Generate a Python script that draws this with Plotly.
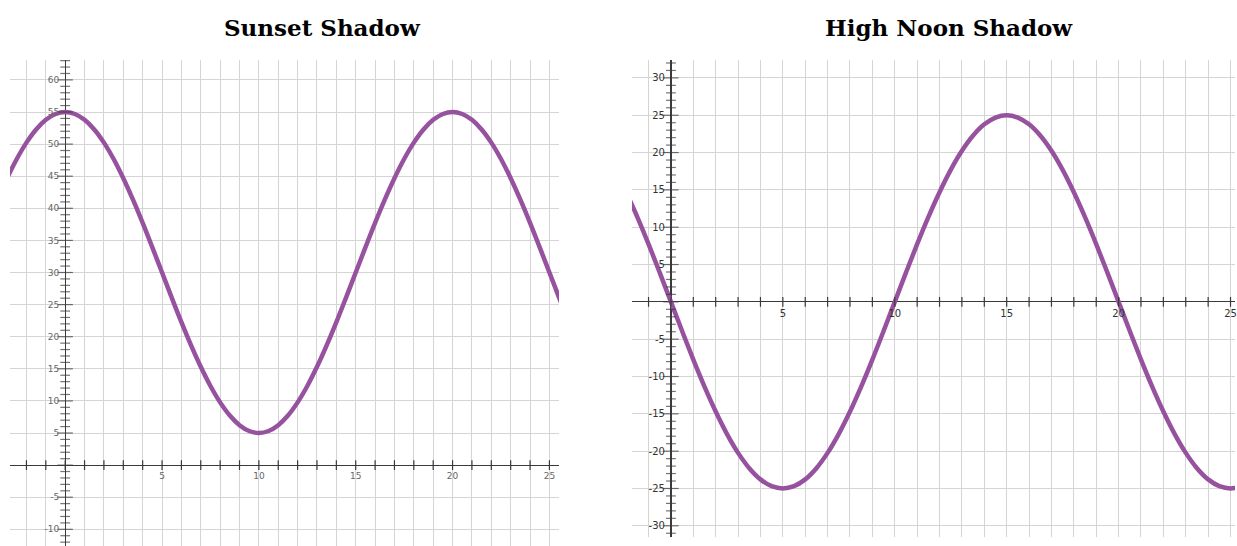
import plotly.graph_objects as go

# ---------------- data ----------------
sunset_x = [v / 2 for v in range(-6, 53)]
sunset_y = [44.69, 47.68, 50.23, 52.28, 53.78, 54.69, 55.00, 54.69, 53.78, 52.28,
            50.23, 47.68, 44.69, 41.35, 37.73, 33.91, 30.00, 26.09, 22.27, 18.65,
            15.31, 12.32, 9.77, 7.72, 6.22, 5.31, 5.00, 5.31, 6.22, 7.72,
            9.77, 12.32, 15.31, 18.65, 22.27, 26.09, 30.00, 33.91, 37.73, 41.35,
            44.69, 47.68, 50.23, 52.28, 53.78, 54.69, 55.00, 54.69, 53.78, 52.28,
            50.23, 47.68, 44.69, 41.35, 37.73, 33.91, 30.00, 26.09, 22.27]

noon_x = [v / 2 for v in range(-4, 53)]
noon_y = [14.69, 11.35, 7.73, 3.91, 0.00, -3.91, -7.73, -11.35, -14.69, -17.68,
          -20.23, -22.28, -23.78, -24.69, -25.00, -24.69, -23.78, -22.28, -20.23, -17.68,
          -14.69, -11.35, -7.73, -3.91, 0.00, 3.91, 7.73, 11.35, 14.69, 17.68,
          20.23, 22.28, 23.78, 24.69, 25.00, 24.69, 23.78, 22.28, 20.23, 17.68,
          14.69, 11.35, 7.73, 3.91, 0.00, -3.91, -7.73, -11.35, -14.69, -17.68,
          -20.23, -22.28, -23.78, -24.69, -25.00, -24.69, -23.78]

sunset_xticks = list(range(-2, 26))
sunset_yticks = list(range(-12, 64))
sunset_xlabels = [5, 10, 15, 20, 25]
sunset_ylabels = [-10, -5, 5, 10, 15, 20, 25, 30, 35, 40, 45, 50, 55, 60]

noon_xticks = list(range(-1, 26))
noon_yticks = list(range(-31, 33))
noon_xlabels = [5, 10, 15, 20, 25]
noon_ylabels = [-30, -25, -20, -15, -10, -5, 5, 10, 15, 20, 25, 30]

titles = ["Sunset Shadow", "High Noon Shadow"]

# ---------------- layout geometry ----------------
W, H = 1237, 546
L_xr, L_yr = [-2.85, 25.5], [-12.6, 63.1]
R_xr, R_yr = [-1.74, 25.2], [-31.5, 32.4]
L_xd, L_yd = [10 / W, 560 / W], [0.0, 1 - 60 / H]
R_xd, R_yd = [633 / W, 1.0], [1 - 537 / H, 1 - 60 / H]


def zero_pos(rng, dom):
    return dom[0] + (0 - rng[0]) / (rng[1] - rng[0]) * (dom[1] - dom[0])


GRID = "#d4d4d4"
AXIS = "#3a3a3a"
CURVE = "#96529f"

fig = go.Figure()

# curves
fig.add_trace(go.Scatter(x=sunset_x, y=sunset_y, mode="lines",
                         line=dict(color=CURVE, width=4.5, shape="spline", smoothing=1.0),
                         xaxis="x", yaxis="y", hoverinfo="skip"))
fig.add_trace(go.Scatter(x=noon_x, y=noon_y, mode="lines",
                         line=dict(color=CURVE, width=4.5, shape="spline", smoothing=1.0),
                         xaxis="x2", yaxis="y2", hoverinfo="skip"))


def tick_traces(xt, yt, xa, ya):
    # x-axis crossing ticks
    fig.add_trace(go.Scatter(x=xt, y=[0] * len(xt), mode="markers",
                             marker=dict(symbol="line-ns", size=7,
                                         line=dict(width=1.2, color=AXIS)),
                             xaxis=xa, yaxis=ya, hoverinfo="skip"))
    # y-axis crossing ticks (longer every 5)
    sizes = [11 if v % 5 == 0 else 7 for v in yt]
    fig.add_trace(go.Scatter(x=[0] * len(yt), y=yt, mode="markers",
                             marker=dict(symbol="line-ew", size=sizes,
                                         line=dict(width=1.2, color=AXIS)),
                             xaxis=xa, yaxis=ya, hoverinfo="skip"))


tick_traces(sunset_xticks, sunset_yticks, "x", "y")
tick_traces(noon_xticks, noon_yticks, "x2", "y2")


def xaxis_cfg(rng, dom, yr, yd, ticks, labels, size, color):
    return dict(range=rng, domain=dom, anchor="free", position=zero_pos(yr, yd),
                tickmode="array", tickvals=ticks,
                ticktext=[str(v) if v in labels else "" for v in ticks],
                showgrid=True, gridcolor=GRID, gridwidth=1,
                zeroline=True, zerolinecolor=AXIS, zerolinewidth=1.2,
                showline=False, ticks="", ticklabelstandoff=4,
                ticklabeloverflow="allow",
                tickfont=dict(family="DejaVu Sans", size=size, color=color),
                fixedrange=True)


def yaxis_cfg(rng, dom, xr, xd, labels, size, color):
    return dict(range=rng, domain=dom, anchor="free", position=zero_pos(xr, xd),
                tickmode="array", tickvals=labels, ticktext=[str(v) for v in labels],
                showgrid=True, gridcolor=GRID, gridwidth=1,
                zeroline=True, zerolinecolor=AXIS, zerolinewidth=1.2,
                showline=False, ticks="", ticklabelstandoff=6,
                ticklabeloverflow="allow",
                tickfont=dict(family="DejaVu Sans", size=size, color=color),
                fixedrange=True)


fig.update_layout(
    width=W, height=H,
    margin=dict(l=0, r=0, t=0, b=0),
    paper_bgcolor="white", plot_bgcolor="white",
    showlegend=False,
    xaxis=xaxis_cfg(L_xr, L_xd, L_yr, L_yd, sunset_xticks, sunset_xlabels, 9, "#666"),
    yaxis=yaxis_cfg(L_yr, L_yd, L_xr, L_xd, sunset_ylabels, 9, "#666"),
    xaxis2=xaxis_cfg(R_xr, R_xd, R_yr, R_yd, noon_xticks, noon_xlabels, 10, "#333"),
    yaxis2=yaxis_cfg(R_yr, R_yd, R_xr, R_xd, noon_ylabels, 10, "#333"),
    annotations=[
        dict(text="<b>%s</b>" % titles[0], x=323 / W, y=1 - 27 / H, xref="paper", yref="paper",
             showarrow=False, xanchor="center", yanchor="middle",
             font=dict(family="DejaVu Serif", size=23, color="black")),
        dict(text="<b>%s</b>" % titles[1], x=951 / W, y=1 - 27 / H, xref="paper", yref="paper",
             showarrow=False, xanchor="center", yanchor="middle",
             font=dict(family="DejaVu Serif", size=23, color="black")),
    ],
)

fig.write_html("out.html",
               config={"displayModeBar": False, "staticPlot": True},
               post_script="document.body.style.margin='0';document.body.style.overflow='hidden';")
